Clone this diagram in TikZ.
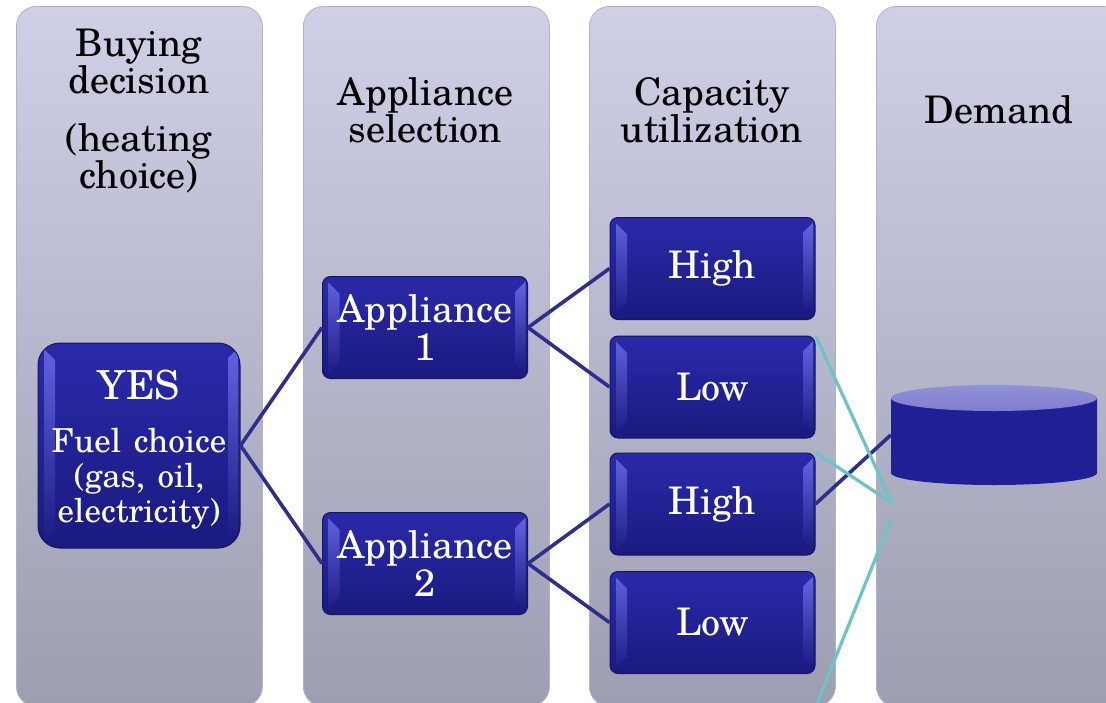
\documentclass[tikz,border=0pt]{standalone}
\usepackage{fontspec}
\setmainfont{TeX Gyre Schola}
\usetikzlibrary{calc}
\definecolor{colTop}{RGB}{207,207,230}
\definecolor{colBot}{RGB}{158,158,178}
\definecolor{colEdge}{RGB}{178,178,198}
\definecolor{boxTop}{RGB}{42,42,170}
\definecolor{boxBot}{RGB}{26,26,128}
\definecolor{boxEdge}{RGB}{22,22,92}
\definecolor{bevelc}{RGB}{110,110,238}
\definecolor{linkc}{RGB}{46,46,140}
\definecolor{tealc}{RGB}{108,196,198}
\definecolor{cylBody}{RGB}{32,32,150}
\definecolor{cylTop}{RGB}{126,126,208}
\tikzset{
  column/.style={rounded corners=20pt, top color=colTop, bottom color=colBot,
    draw=colEdge, line width=0.8pt, minimum width=246pt, minimum height=700pt,
    anchor=north west, inner sep=0pt},
  head/.style={text=black, align=center, font=\fontsize{38}{37}\selectfont},
  bluebox/.style={rounded corners=8pt, top color=boxTop, bottom color=boxBot,
    draw=boxEdge, line width=1pt, text=white, align=center,
    minimum width=205pt, minimum height=102pt, inner sep=0pt,
    font=\fontsize{38}{38}\selectfont,
    path picture={
      \shade[sharp corners, top color=bevelc, bottom color=boxBot, opacity=0.85]
        ($(path picture bounding box.north west)+(6pt,-6pt)$) --
        ($(path picture bounding box.north west)+(17pt,-17pt)$) --
        ($(path picture bounding box.south west)+(17pt,17pt)$) --
        ($(path picture bounding box.south west)+(6pt,6pt)$) -- cycle;
      \shade[sharp corners, top color=bevelc, bottom color=boxBot, opacity=0.85]
        ($(path picture bounding box.north east)+(-2pt,-5pt)$) --
        ($(path picture bounding box.north east)+(-12pt,-15pt)$) --
        ($(path picture bounding box.south east)+(-12pt,15pt)$) --
        ($(path picture bounding box.south east)+(-2pt,5pt)$) -- cycle;
    }},
  link/.style={draw=linkc, line width=3.6pt},
  tline/.style={draw=tealc, line width=3.2pt},
}
\begin{document}
\begin{tikzpicture}[x=1pt,y=-1pt]
\useasboundingbox (0,0) rectangle (1106,702);
\clip (0,0) rectangle (1106,702);
\fill[white] (0,0) rectangle (1106,702);

% columns
\node[column] (col1) at (16,6) {};
\node[column] (col2) at (303,6) {};
\node[column] (col3) at (589,6) {};
\node[column] (col4) at (876,6) {};

% headers
\node[head] (h1a) at (139,62) {Buying\\decision};
\node[head] (h1b) at (139,158) {(heating\\choice)};
\node[head] (h2) at (425.5,110) {Appliance\\selection};
\node[head] (h3) at (712,110) {Capacity\\utilization};
\node[head] (h4) at (999,110) {Demand};

% demand cylinder
\node[minimum width=206pt, minimum height=100pt, inner sep=0pt] (demand) at (994,435) {};
\fill[cylBody] (891,398) -- (891,473) arc[start angle=180, end angle=360, x radius=103pt, y radius=12pt] -- (1097,398) -- cycle;
\shade[top color=cylTop!85!white, bottom color=cylTop] (994,398) ellipse [x radius=103pt, y radius=13pt];

% coordinates for the teal lines
\coordinate (tipA) at (892,503);
\coordinate (tipB) at (891,520);
\coordinate (tailB) at (816,706);

% boxes
\node[bluebox, rounded corners=22pt, minimum width=202pt, minimum height=205pt, text width=200pt] (yes) at (139,445.5)
  {\fontsize{40}{40}\selectfont YES\\[18pt]\fontsize{33}{35}\selectfont Fuel choice\\(gas, oil,\\electricity)\par\vspace*{-9pt}};
\node[bluebox] (app1) at (425,327.5) {Appliance\\1};
\node[bluebox] (app2) at (425,563.5) {Appliance\\2};
\node[bluebox] (high1) at (712.5,268.5) {High};
\node[bluebox] (low1) at (712.5,387) {Low};
\node[bluebox] (high2) at (712.5,504) {High};
\node[bluebox] (low2) at (712.5,622.5) {Low};

% connectors
\draw[link] (yes.east) -- (app1.west);
\draw[link] (yes.east) -- (app2.west);
\draw[link] (app1.east) -- (high1.west);
\draw[link] (app1.east) -- (low1.west);
\draw[link] (app2.east) -- (high2.west);
\draw[link] (app2.east) -- (low2.west);
\draw[link] (high2.east) -- (demand.west);

\draw[tline] (low1.north east) -- (tipA);
\draw[tline] (high2.north east) -- (tipA);
\draw[tline] (tipB) -- (tailB);
\end{tikzpicture}
\end{document}
